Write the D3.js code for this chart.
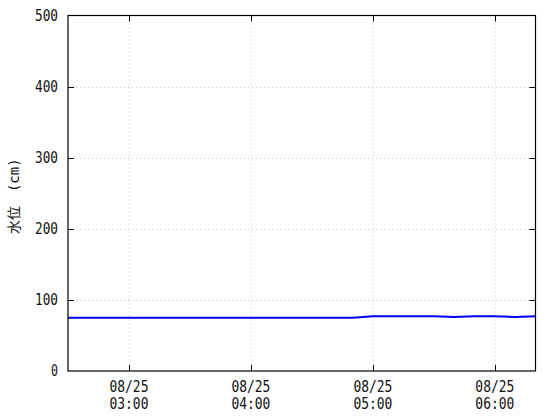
<!DOCTYPE html>
<html><head><meta charset="utf-8">
<script src="https://cdn.jsdelivr.net/npm/d3@7"></script>
<style>body{margin:0;background:#fff}svg{display:block}</style>
</head><body>
<script>
const times = ["02:30","02:40","02:50","03:00","03:10","03:20","03:30","03:40","03:50","04:00","04:10","04:20","04:30","04:40","04:50","05:00","05:10","05:20","05:30","05:40","05:50","06:00","06:10","06:20"];
const levels = [75,75,75,75,75,75,75,75,75,75,75,75,75,75,75,77,77,77,77,76,77,77,76,77];
const yTicks = [0,100,200,300,400,500];
const xTickTimes = ["03:00","04:00","05:00","06:00"];
const dateLabel = "08/25";
const yTitleMain = "水位";
const yTitleUnit = "(cm)";

const W=560,H=420, L=68, R=535.5, T=15.5, B=371;
const parse = s => { const [h,m]=s.split(":").map(Number); return new Date(2020,7,25,h,m); };
const svg = d3.select("body").append("svg").attr("width",W).attr("height",H);
const x = d3.scaleTime().domain([parse("02:30"),parse("06:20")]).range([L,R]);
const y = d3.scaleLinear().domain([0,500]).range([B,T]);
const font = "'DejaVu Sans Mono', monospace";
const fs = 15, cw = 8; // char width in px

// grid
const g = svg.append("g");
g.selectAll(".gx").data(xTickTimes).enter().append("line")
  .attr("x1",d=>Math.round(x(parse(d)))+0.5).attr("x2",d=>Math.round(x(parse(d)))+0.5)
  .attr("y1",T).attr("y2",B).attr("stroke","#c8c8c8").attr("stroke-dasharray","1,3");
g.selectAll(".gy").data(yTicks.filter(v=>v>0&&v<500)).enter().append("line")
  .attr("y1",d=>Math.round(y(d))+0.5).attr("y2",d=>Math.round(y(d))+0.5)
  .attr("x1",L).attr("x2",R).attr("stroke","#c8c8c8").attr("stroke-dasharray","1,3");

// line
const line = d3.line().x((d,i)=>x(parse(times[i]))).y(d=>y(d));
svg.append("path").datum(levels).attr("d",line).attr("fill","none")
  .attr("stroke","#0000ff").attr("stroke-width",2);

// frame
svg.append("rect").attr("x",L).attr("y",T).attr("width",R-L).attr("height",B-T)
  .attr("fill","none").attr("stroke","#000").attr("stroke-width",1.2);

// ticks inward
const tl=6;
yTicks.filter(v=>v>0&&v<500).forEach(v=>{
  const yy=Math.round(y(v))+0.5;
  svg.append("line").attr("x1",L).attr("x2",L+tl).attr("y1",yy).attr("y2",yy).attr("stroke","#000");
  svg.append("line").attr("x1",R-tl).attr("x2",R).attr("y1",yy).attr("y2",yy).attr("stroke","#000");
});
xTickTimes.forEach(t=>{
  const xx=Math.round(x(parse(t)))+0.5;
  svg.append("line").attr("x1",xx).attr("x2",xx).attr("y1",B-tl).attr("y2",B).attr("stroke","#000");
  svg.append("line").attr("x1",xx).attr("x2",xx).attr("y1",T).attr("y2",T+tl).attr("stroke","#000");
});

function label(sel, txt){
  sel.attr("font-family",font).attr("font-size",fs).attr("fill","#111")
    .attr("textLength",String(txt).length*cw-1).attr("lengthAdjust","spacingAndGlyphs").text(txt);
}
// y labels
yTicks.forEach(v=>{
  const s=String(v);
  label(svg.append("text").attr("x",58-(s.length*cw-1)).attr("y",y(v)).attr("dy","0.36em"), s);
});
// x labels
xTickTimes.forEach(t=>{
  const xx=x(parse(t));
  label(svg.append("text").attr("x",xx-(5*cw-1)/2).attr("y",392), dateLabel);
  label(svg.append("text").attr("x",xx-(5*cw-1)/2).attr("y",409), t);
});
// y title
const yt = svg.append("text").attr("transform",`translate(19,${(T+B)/2+3}) rotate(-90)`)
  .attr("text-anchor","middle").attr("font-family","'Noto Sans CJK JP', sans-serif")
  .attr("font-size",14).attr("fill","#111");
yt.append("tspan").text(yTitleMain);
yt.append("tspan").attr("dx",14).attr("font-family",font).attr("font-size",14).text(yTitleUnit);
</script>
</body></html>
